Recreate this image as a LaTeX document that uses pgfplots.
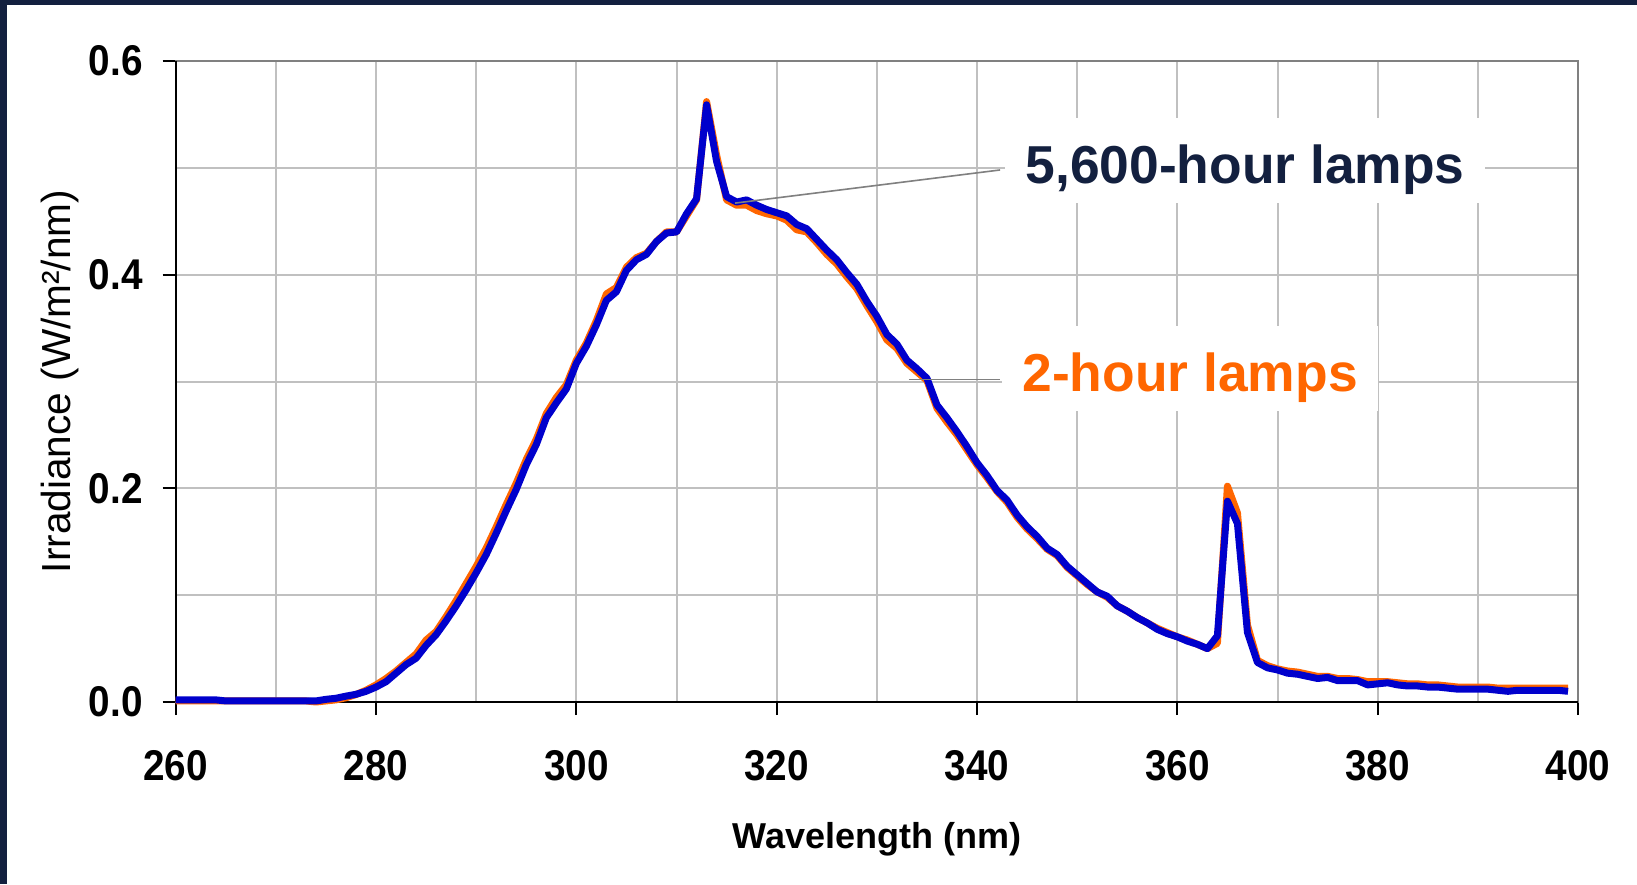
\documentclass[border=0pt]{standalone}
\usepackage{pgfplots}
\usepackage{pgfplotstable}
\pgfplotsset{compat=1.18}
\usepackage{fontspec}
\setmainfont{Liberation Sans}
\newfontfamily\tickfont[FakeStretch=0.9]{Liberation Sans}

\definecolor{navy}{HTML}{13203F}
\definecolor{lamporange}{HTML}{FF6600}
\definecolor{lampblue}{HTML}{0000CC}
\definecolor{gridgray}{HTML}{C0C0C0}
\definecolor{framegray}{HTML}{808080}

% wavelength (nm), 2-hour lamps, 5,600-hour lamps
\pgfplotstableread{
wl old new
260 0.001 0.002
261 0.001 0.002
262 0.001 0.002
263 0.001 0.002
264 0.001 0.002
265 0.001 0.001
266 0.001 0.001
267 0.001 0.001
268 0.001 0.001
269 0.001 0.001
270 0.001 0.001
271 0.001 0.001
272 0.001 0.001
273 0.001 0.001
274 0.000 0.001
275 0.001 0.0025
276 0.002 0.0035
277 0.004 0.0055
278 0.007 0.0072
279 0.011 0.010
280 0.016 0.014
281 0.022 0.019
282 0.029 0.027
283 0.037 0.035
284 0.045 0.041
285 0.058 0.053
286 0.066 0.063
287 0.080 0.076
288 0.095 0.090
289 0.111 0.105
290 0.127 0.121
291 0.144 0.138
292 0.164 0.158
293 0.185 0.179
294 0.205 0.199
295 0.227 0.222
296 0.246 0.241
297 0.270 0.266
298 0.285 0.280
299 0.297 0.293
300 0.320 0.317
301 0.336 0.333
302 0.357 0.353
303 0.382 0.376
304 0.388 0.384
305 0.407 0.404
306 0.416 0.414
307 0.420 0.419
308 0.431 0.431
309 0.440 0.439
310 0.440 0.440
311 0.455 0.457
312 0.470 0.471
313 0.562 0.559
314 0.512 0.506
315 0.470 0.473
316 0.465 0.468
317 0.465 0.470
318 0.460 0.465
319 0.457 0.461
320 0.455 0.458
321 0.451 0.455
322 0.442 0.447
323 0.440 0.443
324 0.430 0.433
325 0.419 0.423
326 0.410 0.414
327 0.398 0.402
328 0.387 0.391
329 0.371 0.375
330 0.356 0.361
331 0.339 0.344
332 0.331 0.335
333 0.317 0.320
334 0.309 0.312
335 0.301 0.303
336 0.275 0.278
337 0.262 0.266
338 0.250 0.253
339 0.236 0.239
340 0.222 0.224
341 0.210 0.212
342 0.197 0.198
343 0.187 0.189
344 0.173 0.175
345 0.162 0.164
346 0.153 0.155
347 0.143 0.144
348 0.137 0.138
349 0.126 0.127
350 0.118 0.119
351 0.110 0.111
352 0.103 0.103
353 0.098 0.099
354 0.090 0.090
355 0.085 0.085
356 0.079 0.079
357 0.074 0.074
358 0.069 0.068
359 0.065 0.064
360 0.061 0.061
361 0.058 0.057
362 0.054 0.054
363 0.050 0.050
364 0.055 0.062
365 0.202 0.188
366 0.177 0.167
367 0.072 0.065
368 0.039 0.037
369 0.034 0.032
370 0.031 0.030
371 0.029 0.027
372 0.028 0.026
373 0.026 0.024
374 0.024 0.022
375 0.024 0.023
376 0.022 0.020
377 0.022 0.020
378 0.021 0.020
379 0.019 0.016
380 0.019 0.017
381 0.019 0.018
382 0.018 0.016
383 0.017 0.015
384 0.017 0.015
385 0.016 0.014
386 0.016 0.014
387 0.015 0.013
388 0.014 0.012
389 0.014 0.012
390 0.014 0.012
391 0.014 0.012
392 0.013 0.011
393 0.013 0.010
394 0.013 0.011
395 0.013 0.011
396 0.013 0.011
397 0.013 0.011
398 0.013 0.011
399 0.013 0.010
}\spectrum

\begin{document}
\begin{tikzpicture}
\useasboundingbox (-87.85pt,-91pt) rectangle (730.65pt,351pt);
\fill[navy] (-87.85pt,-91pt) rectangle (-84.5pt,351pt);
\fill[navy] (-87.85pt,348.65pt) rectangle (730.65pt,351pt);
\begin{axis}[
    at={(0pt,0pt)}, anchor=south west,
    scale only axis, width=701.15pt, height=320.5pt,
    xmin=260, xmax=400, ymin=0, ymax=0.6,
    xtick={260,280,...,400},
    minor xtick={270,290,...,390},
    ytick={0,0.2,0.4,0.6},
    minor ytick={0.1,0.3,0.5},
    grid=both,
    major grid style={gridgray, line width=1pt},
    minor grid style={gridgray, line width=1pt},
    axis line style={framegray, line width=1pt},
    tick align=outside,
    xtick pos=bottom, ytick pos=left,
    major tick length=6.5pt, minor tick length=0pt,
    tick style={black, line width=1pt},
    scaled y ticks=false,
    y tick label style={/pgf/number format/fixed,
        /pgf/number format/fixed zerofill,
        /pgf/number format/precision=1},
    /pgf/number format/assume math mode=true,
    ticklabel style={font=\tickfont\bfseries\fontsize{21.5}{21.5}\selectfont, inner sep=0pt},
    xticklabel style={anchor=north, yshift=-17.5pt},
    yticklabel style={anchor=east, xshift=-9.85pt},
    xlabel={Wavelength (nm)},
    xlabel style={font=\bfseries\fontsize{18}{18}\selectfont,
        at={([yshift=-73pt]axis description cs:0.5,0)}, anchor=base},
    ylabel={Irradiance (W/m²/nm)},
    ylabel style={font=\fontsize{20.3}{20.3}\selectfont,
        at={([xshift=-52.35pt]axis description cs:0,0.5)}, anchor=base},
    clip=false,
]
\draw[black, line width=1pt] (rel axis cs:0,0) -- (rel axis cs:1,0);
\draw[black, line width=1pt] (rel axis cs:0,0) -- (rel axis cs:0,1);
\addplot[lamporange, line width=3.5pt, line join=round, no markers] table[x=wl, y=old] {\spectrum};
\addplot[lampblue, line width=3.5pt, line join=round, no markers] table[x=wl, y=new] {\spectrum};
\draw[framegray, line width=0.8pt] (axis cs:315.85,0.467) -- (axis cs:342.3,0.498);
\draw[framegray, line width=0.8pt] (axis cs:333.2,0.302) -- (axis cs:342.3,0.302);
\node[fill=white, anchor=base west, inner xsep=10pt, inner ysep=4pt,
      text height=28.5pt, text depth=6pt, text=navy,
      font=\bfseries\fontsize{26.7}{26.7}\selectfont]
  at (axis cs:342.8,0.4858) {5,600-hour lamps};
\node[fill=white, anchor=base west, inner xsep=10pt, inner ysep=4pt,
      text height=28.5pt, text depth=6pt, text=lamporange,
      font=\bfseries\fontsize{26.7}{26.7}\selectfont]
  at (axis cs:342.5,0.2911) {2-hour lamps};
\end{axis}
\end{tikzpicture}
\end{document}
